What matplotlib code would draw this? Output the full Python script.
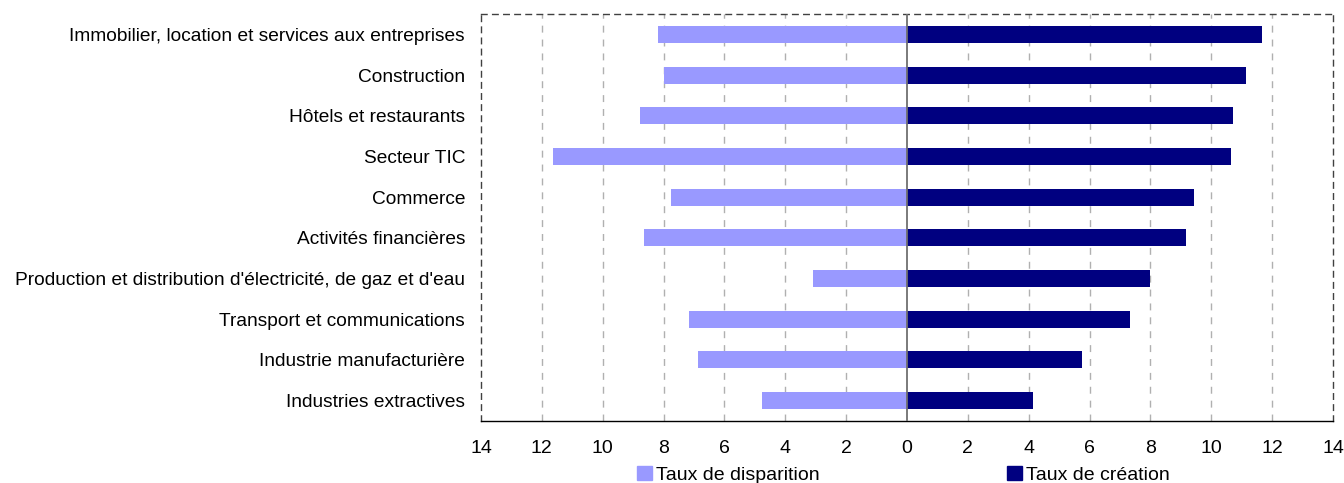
import matplotlib
matplotlib.use("Agg")
import matplotlib.pyplot as plt
from matplotlib.patches import Patch

plt.rcParams['font.family'] = ['Liberation Sans', 'DejaVu Sans']

categories = [
    "Immobilier, location et services aux entreprises",
    "Construction",
    "Hôtels et restaurants",
    "Secteur TIC",
    "Commerce",
    "Activités financières",
    "Production et distribution d'électricité, de gaz et d'eau",
    "Transport et communications",
    "Industrie manufacturière",
    "Industries extractives",
]
taux_disparition = [8.17, 7.98, 8.77, 11.63, 7.75, 8.63, 3.08, 7.15, 6.86, 4.75]
taux_creation = [11.68, 11.14, 10.71, 10.64, 9.42, 9.16, 8.00, 7.32, 5.74, 4.15]
xticks = list(range(-14, 15, 2))
xtick_labels = [str(abs(t)) for t in xticks]

c_disp = "#9999FF"
c_crea = "#000080"

fig = plt.figure(figsize=(13.44, 4.83), dpi=100)
ax = fig.add_axes([481/1344, 1-421/483, (1333-481)/1344, (421-14)/483])

y = list(range(len(categories)))
ax.barh(y, [-v for v in taux_disparition], height=0.42, color=c_disp, zorder=3)
ax.barh(y, taux_creation, height=0.42, color=c_crea, zorder=3)

ax.set_xlim(-14, 14)
ax.set_ylim(len(categories) - 0.5, -0.5)
ax.set_xticks(xticks)
ax.set_xticklabels(xtick_labels, fontsize=14)
ax.set_yticks(y)
ax.set_yticklabels(categories, fontsize=13.8)
ax.tick_params(axis='x', length=0, pad=14)
ax.tick_params(axis='y', length=0, pad=11.5)

for t in xticks[1:-1]:
    if t == 0:
        continue
    ax.axvline(t, color="#b0b0b0", linestyle=(0, (5, 5)), linewidth=1, zorder=1)
ax.axvline(0, color="#707070", linewidth=1.3, zorder=4)

for side in ["top", "left", "right"]:
    ax.spines[side].set_linestyle((0, (4, 4)))
    ax.spines[side].set_color("#404040")
    ax.spines[side].set_linewidth(1)
ax.spines["bottom"].set_color("#000000")
ax.spines["bottom"].set_linewidth(1)

fig.legend(handles=[Patch(color=c_disp, label="Taux de disparition")],
           loc="center left", bbox_to_anchor=(637/1344, 1-475/483),
           frameon=False, fontsize=14, handlelength=0.75, handleheight=0.75,
           handletextpad=0.25, borderpad=0, borderaxespad=0)
fig.legend(handles=[Patch(color=c_crea, label="Taux de création")],
           loc="center left", bbox_to_anchor=(1007/1344, 1-475/483),
           frameon=False, fontsize=14, handlelength=0.75, handleheight=0.75,
           handletextpad=0.25, borderpad=0, borderaxespad=0)

fig.savefig("out.png", dpi=100)
